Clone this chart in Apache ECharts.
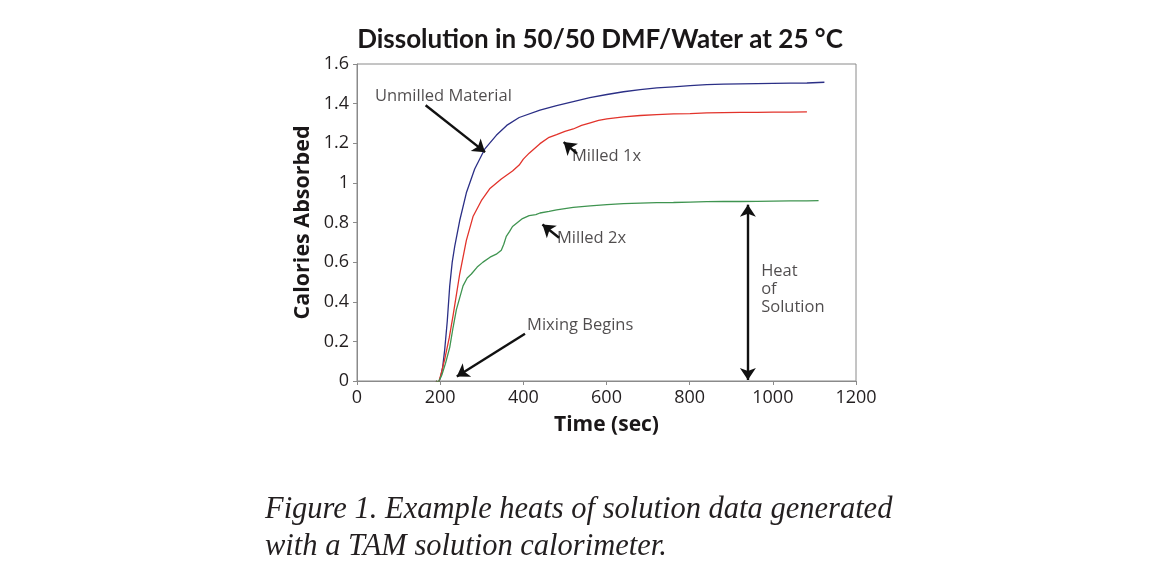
<!DOCTYPE html>
<html>
<head>
<meta charset="utf-8">
<script src="https://cdn.jsdelivr.net/npm/echarts@6/dist/echarts.min.js"></script>
<style>
html, body { margin: 0; padding: 0; background: #fff; }
#chart { width: 1156px; height: 586px; }
</style>
</head>
<body>
<div id="chart"></div>
<script>
// time (sec) / calories absorbed
var unmilledTime = [190, 196, 201, 206, 211, 217, 223, 229, 235, 247, 263, 283, 307, 335, 360, 390, 440, 480, 520, 560, 601, 641, 681, 721, 761, 801, 841, 881, 922, 962, 1001, 1042, 1082, 1124];
var unmilledCal = [0, -0.01, 0.02, 0.07, 0.16, 0.3, 0.48, 0.6, 0.68, 0.81, 0.95, 1.07, 1.17, 1.24, 1.29, 1.33, 1.367, 1.39, 1.41, 1.43, 1.446, 1.46, 1.471, 1.479, 1.485, 1.491, 1.496, 1.498, 1.5, 1.501, 1.502, 1.503, 1.504, 1.508];

var milled1Time = [190, 196, 204, 212, 222, 231, 247, 263, 279, 299, 319, 347, 374, 390, 400, 414, 440, 462, 480, 500, 520, 540, 561, 581, 601, 641, 681, 721, 761, 801, 841, 881, 922, 962, 1001, 1042, 1082];
var milled1Cal = [0, -0.01, 0.05, 0.12, 0.22, 0.33, 0.54, 0.71, 0.83, 0.91, 0.97, 1.02, 1.06, 1.09, 1.12, 1.15, 1.198, 1.23, 1.244, 1.26, 1.272, 1.29, 1.303, 1.315, 1.323, 1.333, 1.34, 1.344, 1.348, 1.35, 1.353, 1.355, 1.356, 1.356, 1.357, 1.357, 1.358];

var milled2Time = [190, 196, 204, 213, 223, 231, 239, 255, 265, 275, 289, 303, 320, 335, 347, 353, 359, 367, 374, 386, 398, 414, 430, 440, 462, 480, 520, 561, 601, 641, 681, 721, 761, 801, 841, 881, 922, 962, 1001, 1042, 1082, 1110];
var milled2Cal = [0, -0.005, 0.03, 0.09, 0.17, 0.27, 0.36, 0.48, 0.52, 0.54, 0.575, 0.6, 0.625, 0.64, 0.66, 0.69, 0.73, 0.755, 0.78, 0.8, 0.82, 0.835, 0.84, 0.848, 0.856, 0.864, 0.876, 0.884, 0.89, 0.895, 0.898, 0.9, 0.901, 0.903, 0.905, 0.906, 0.906, 0.907, 0.908, 0.909, 0.909, 0.91];

var xTicks = [0, 200, 400, 600, 800, 1000, 1200];
var yTicks = [0, 0.2, 0.4, 0.6, 0.8, 1, 1.2, 1.4, 1.6];

// annotation labels and arrows, in data units
var noteText = ['Unmilled Material', 'Milled 1x', 'Milled 2x', 'Mixing Begins', 'Heat\nof\nSolution'];
var noteAt = [[43, 1.436], [517, 1.132], [481, 0.718], [409, 0.283], [972, 0.465]];
var arrowFrom = [[165, 1.392], [529, 1.148], [486, 0.723], [404, 0.239]];
var arrowTo = [[308, 1.155], [497, 1.206], [446, 0.79], [240, 0.023]];
var heatArrow = [[940, 0.005], [940, 0.89]];

function pairs(xs, ys) {
	var out = [];
	for (var i = 0; i < xs.length; i++) {
		out.push([xs[i], ys[i]]);
	}
	return out;
}

var sansFont = 'Open Sans';
var chart = echarts.init(document.getElementById('chart'));

var notes = [];
for (var i = 0; i < noteText.length; i++) {
	notes.push({ value: [noteAt[i][0], noteAt[i][1]], name: noteText[i] });
}
var arrows = [];
for (var j = 0; j < arrowFrom.length; j++) {
	arrows.push([{ coord: arrowFrom[j] }, { coord: arrowTo[j] }]);
}

chart.setOption({
	animation: false,
	title: {
		text: 'Dissolution in 50/50 DMF/Water at 25 °C',
		left: 595,
		textAlign: 'center',
		top: 22,
		textStyle: { fontFamily: 'Lato', fontWeight: 'bold', fontSize: 26, color: '#1a1718' }
	},
	grid: {
		left: 357, right: 300, top: 64, bottom: 205,
		show: true, borderColor: '#8a8a8a', borderWidth: 1
	},
	xAxis: {
		type: 'value', min: 0, max: 1200, interval: 200,
		name: 'Time (sec)', nameLocation: 'middle', nameGap: 34,
		nameTextStyle: { fontFamily: sansFont, fontWeight: 'bold', fontSize: 21, color: '#1a1718' },
		axisLine: { show: true, lineStyle: { color: '#8a8a8a' } },
		axisTick: { show: true, inside: false, length: 4, lineStyle: { color: '#8a8a8a' } },
		axisLabel: { fontFamily: sansFont, fontSize: 18, color: '#231f20', margin: 8,
			formatter: function (v) { return xTicks.indexOf(v) >= 0 ? String(v) : ''; } },
		splitLine: { show: false }
	},
	yAxis: {
		type: 'value', min: 0, max: 1.6, interval: 0.2,
		name: 'Calories Absorbed', nameLocation: 'middle', nameGap: 43, nameRotate: 90,
		nameTextStyle: { fontFamily: sansFont, fontWeight: 'bold', fontSize: 21.5, color: '#1a1718' },
		axisLine: { show: true, lineStyle: { color: '#8a8a8a' } },
		axisTick: { show: true, inside: false, length: 4, lineStyle: { color: '#8a8a8a' } },
		axisLabel: { fontFamily: sansFont, fontSize: 18, color: '#231f20', margin: 8,
			formatter: function (v) {
				for (var k = 0; k < yTicks.length; k++) {
					if (Math.abs(yTicks[k] - v) < 1e-9) return String(yTicks[k]);
				}
				return '';
			} },
		splitLine: { show: false }
	},
	series: [
		{
			name: 'Unmilled Material', type: 'line', showSymbol: false,
			data: pairs(unmilledTime, unmilledCal),
			lineStyle: { color: '#2b2f86', width: 1.3 }
		},
		{
			name: 'Milled 1x', type: 'line', showSymbol: false,
			data: pairs(milled1Time, milled1Cal),
			lineStyle: { color: '#e2332b', width: 1.3 }
		},
		{
			name: 'Milled 2x', type: 'line', showSymbol: false,
			data: pairs(milled2Time, milled2Cal),
			lineStyle: { color: '#3f9450', width: 1.3 }
		},
		{
			name: 'notes', type: 'scatter', symbolSize: 0, silent: true,
			data: notes,
			label: {
				show: true, position: 'inside', align: 'left', verticalAlign: 'middle',
				fontFamily: sansFont, fontSize: 16.5, lineHeight: 18, color: '#231f20',
				formatter: function (p) { return p.name; }
			},
			markLine: {
				silent: true, symbol: ['none', 'arrow'], symbolSize: 12,
				label: { show: false },
				lineStyle: { color: '#111', width: 2.4, type: 'solid' },
				data: arrows
			}
		},
		{
			name: 'heat', type: 'line', data: [], silent: true,
			markLine: {
				silent: true, symbol: ['arrow', 'arrow'], symbolSize: 12,
				label: { show: false },
				lineStyle: { color: '#111', width: 2.4, type: 'solid' },
				data: [[{ coord: heatArrow[0] }, { coord: heatArrow[1] }]]
			}
		}
	],
	graphic: [
		{
			type: 'text', left: 265, top: 491,
			style: {
				text: 'Figure 1. Example heats of solution data generated\nwith a TAM solution calorimeter.',
				font: 'italic 30.5px "Liberation Serif"', lineHeight: 37, fill: '#231f20'
			}
		}
	]
});
</script>
</body>
</html>
